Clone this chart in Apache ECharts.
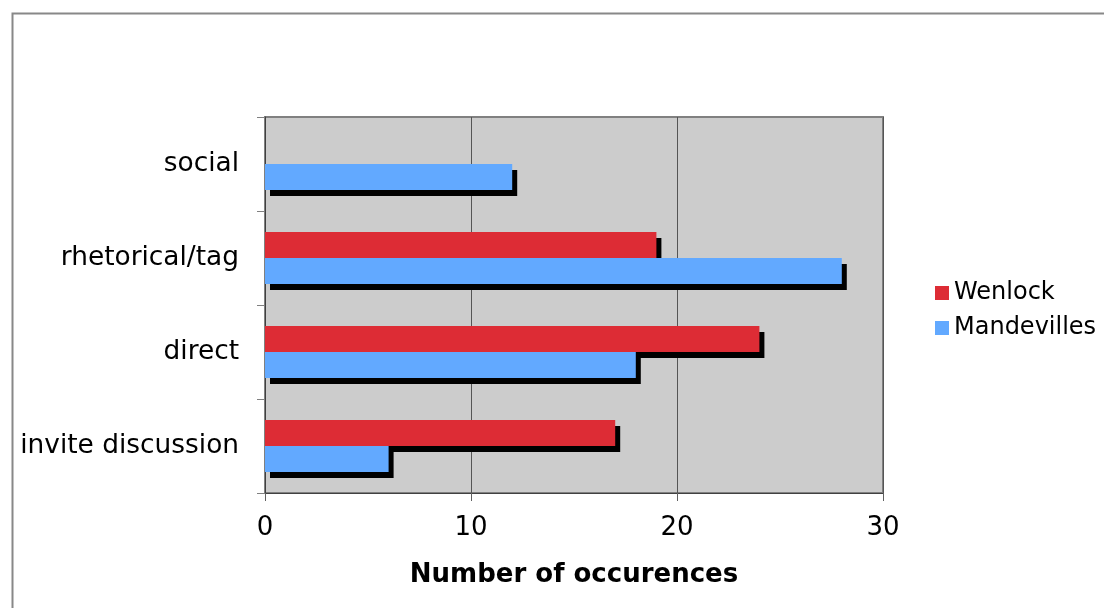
<!DOCTYPE html>
<html>
<head>
<meta charset="utf-8">
<style>
html,body{margin:0;padding:0;background:#fff;}
#chart{width:1104px;height:608px;}
</style>
<script src="https://cdn.jsdelivr.net/npm/echarts@6/dist/echarts.min.js"></script>
</head>
<body>
<div id="chart"></div>
<script>
var categories = ['invite discussion', 'direct', 'rhetorical/tag', 'social'];
var wenlock = [17, 24, 19, 0];
var mandevilles = [6, 18, 28, 12];
var seriesNames = ['Wenlock', 'Mandevilles'];
var xTicks = { min: 0, max: 30, interval: 10 };
var axisTitle = 'Number of occurences';

var FONT = 'DejaVu Sans';
var chart = echarts.init(document.getElementById('chart'), null, { renderer: 'canvas' });
var shadow = { shadowColor: '#000', shadowBlur: 0, shadowOffsetX: 5, shadowOffsetY: 6 };

chart.setOption({
  animation: false,
  backgroundColor: '#fff',
  graphic: [{
    type: 'rect', left: 10, top: 11, silent: true,
    shape: { width: 1200, height: 700 },
    style: { fill: 'none', stroke: '#888', lineWidth: 2 }
  }],
  grid: {
    left: 265, top: 117, right: 221, bottom: 115,
    show: true, backgroundColor: '#cccccc', borderColor: '#808080', borderWidth: 2
  },
  legend: {
    orient: 'vertical', left: 930, top: 276,
    itemWidth: 14, itemHeight: 14, itemGap: 11,
    icon: 'rect',
    itemStyle: { shadowBlur: 0, shadowOffsetX: 0, shadowOffsetY: 0, shadowColor: 'transparent' },
    textStyle: { fontFamily: FONT, fontSize: 24, color: '#000' },
    data: seriesNames
  },
  xAxis: {
    type: 'value', min: xTicks.min, max: xTicks.max, interval: xTicks.interval,
    name: axisTitle, nameLocation: 'middle', nameGap: 69,
    nameTextStyle: { fontFamily: FONT, fontSize: 26, fontWeight: 'bold', color: '#000' },
    axisLine: { show: true, lineStyle: { color: '#404040', width: 1 } },
    axisTick: { show: true, length: 8, lineStyle: { color: '#606060' } },
    axisLabel: { fontFamily: FONT, fontSize: 26, color: '#000', margin: 22 },
    splitLine: { show: true, lineStyle: { color: '#555', width: 1 } }
  },
  yAxis: {
    type: 'category', data: categories,
    axisLine: { show: true, lineStyle: { color: '#404040', width: 1 } },
    axisTick: { show: true, length: 8, lineStyle: { color: '#808080' } },
    axisLabel: { fontFamily: FONT, fontSize: 26.4, color: '#000', margin: 26 },
    splitLine: { show: false }
  },
  series: [
    {
      name: seriesNames[0], type: 'bar', data: wenlock,
      barWidth: 26, barGap: '0%',
      itemStyle: Object.assign({ color: '#dd2c35' }, shadow)
    },
    {
      name: seriesNames[1], type: 'bar', data: mandevilles,
      barWidth: 26, barGap: '0%',
      itemStyle: Object.assign({ color: '#62a9ff' }, shadow)
    }
  ]
});
</script>
</body>
</html>
